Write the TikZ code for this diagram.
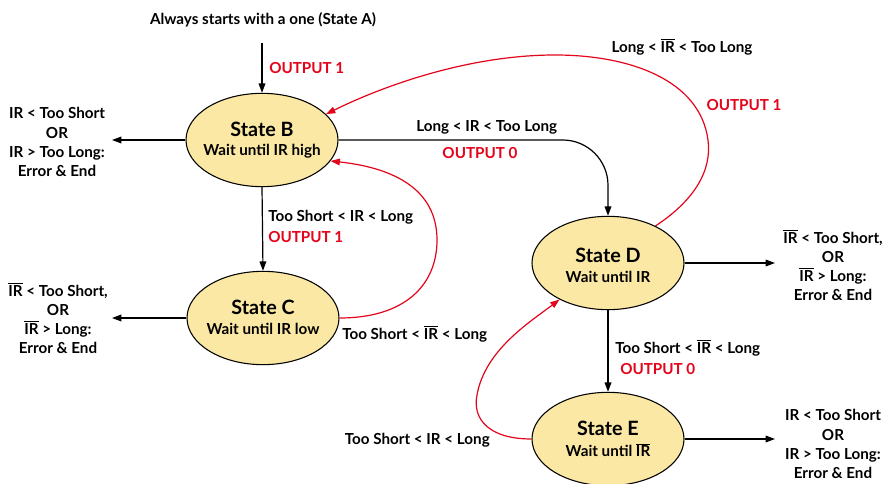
\documentclass[tikz,border=0pt]{standalone}
\usepackage{fontspec}
\setmainfont{Lato}
\usetikzlibrary{shapes.geometric,arrows.meta}
\definecolor{fillY}{HTML}{FBE8A4}
\definecolor{redL}{HTML}{E3051B}
\newcommand\olIR{\ensuremath{\overline{\mbox{IR}}}}
\tikzset{
  statebox/.style={ellipse,draw,fill=fillY,line width=0.8pt,minimum width=114pt,minimum height=70pt,inner sep=0pt},
  sttl/.style={font=\bfseries\fontsize{14.8}{16}\selectfont,inner sep=0pt},
  stsub/.style={font=\bfseries\fontsize{11.4}{13}\selectfont,inner sep=0pt},
  lbl/.style={font=\bfseries\fontsize{11.4}{14.3}\selectfont,inner sep=0pt,align=center},
  rlbl/.style={lbl,text=redL},
  arr/.style={-{Triangle[length=7pt,width=5pt]},line width=0.9pt},
  rarr/.style={arr,draw=redL}
}
\begin{document}
\begin{tikzpicture}[x=0.75pt,y=-0.75pt]
\useasboundingbox (0,0) rectangle (885,484);
% states
\node[statebox] (B) at (262,140) {};
\node[statebox] (C) at (263,318) {};
\node[statebox] (D) at (608,263) {};
\node[statebox] (E) at (608,439) {};
\node[sttl] (Bt) at (262,129) {State B};
\node[stsub] (Bs) at (262,151) {Wait until IR high};
\node[sttl] (Ct) at (263,307) {State C};
\node[stsub] (Cs) at (263,329) {Wait until IR low};
\node[sttl] (Dt) at (608,255) {State D};
\node[stsub] (Ds) at (608,277) {Wait until IR};
\node[sttl] (Et) at (608,428) {State E};
\node[stsub] (Es) at (608,450) {Wait until \olIR};
% title and start
\node[lbl] (title) at (263,20) {Always starts with a one (State A)};
\coordinate (start) at (262,43);
\draw[arr] (start) -- (B.north);
\node[rlbl,anchor=west] (o1) at (269,68) {OUTPUT 1};
% error outputs
\node[lbl] (errB) at (57,142) {IR < Too Short\\OR\\IR > Too Long:\\Error \& End};
\node[lbl] (errC) at (58,318) {\olIR{} < Too Short,\\OR\\\olIR{} > Long:\\Error \& End};
\node[lbl] (errD) at (833,265) {\olIR{} < Too Short,\\OR\\\olIR{} > Long:\\Error \& End};
\node[lbl] (errE) at (833,444) {IR < Too Short\\OR\\IR > Too Long:\\Error \& End};
\coordinate (eB) at (112,140);
\coordinate (eC) at (112,318);
\coordinate (eD) at (775,263);
\coordinate (eE) at (775,439);
\draw[arr] (B.west) -- (eB);
\draw[arr] (C.west) -- (eC);
\draw[arr] (D.east) -- (eD);
\draw[arr] (E.east) -- (eE);
% B -> C
\draw[arr] (B.south) -- (C.north);
\node[lbl,anchor=west] (lbc) at (268,217) {Too Short < IR < Long};
\node[rlbl,anchor=west] (obc) at (268,237) {OUTPUT 1};
% C -> B
\draw[rarr] (C.east) .. controls (405,318) and (437,285) .. (437,240)
  .. controls (437,190) and (395,168) .. (B.-17);
\node[lbl,anchor=west] (lcb) at (342,334) {Too Short < \olIR{} < Long};
% B -> D
\draw[arr,rounded corners=34pt] (B.east) -| (D.north);
\node[lbl,anchor=west] (lbd) at (416,127) {Long < IR < Too Long};
\node[rlbl] (obd) at (480,153) {OUTPUT 0};
% D -> B
\draw[rarr] (D.38) .. controls (695,200) and (712,170) .. (708,140)
  .. controls (700,80) and (630,55) .. (555,55)
  .. controls (470,55) and (385,85) .. (B.22);
\node[lbl] (ldb) at (682,47) {Long < \olIR{} < Too Long};
\node[rlbl] (odb) at (744,105) {OUTPUT 1};
% D -> E
\draw[arr] (D.south) -- (E.north);
\node[lbl,anchor=west] (lde) at (615,348) {Too Short < \olIR{} < Long};
\node[rlbl,anchor=west] (ode) at (620,369) {OUTPUT 0};
% E -> D
\draw[rarr] (E.west) .. controls (490,439) and (472,420) .. (477,395)
  .. controls (485,350) and (530,322) .. (D.-143);
\node[lbl,anchor=east] (led) at (490,440) {Too Short < IR < Long};
\end{tikzpicture}
\end{document}
